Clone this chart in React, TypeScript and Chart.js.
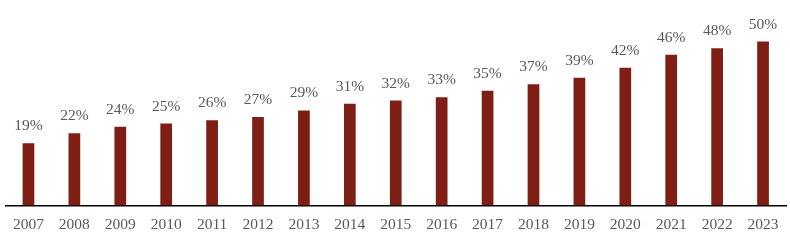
import React, { useEffect, useRef } from "react";
import { Chart, registerables } from "chart.js";

Chart.register(...registerables);

const years = ["2007","2008","2009","2010","2011","2012","2013","2014","2015","2016","2017","2018","2019","2020","2021","2022","2023"];
const shares = [19, 22, 24, 25, 26, 27, 29, 31, 32, 33, 35, 37, 39, 42, 46, 48, 50];

const labelPlugin = {
  id: "barLabels",
  afterDatasetsDraw(chart: any) {
    const ctx = chart.ctx;
    const meta = chart.getDatasetMeta(0);
    ctx.save();
    ctx.font = "15.5px 'Liberation Serif', serif";
    ctx.fillStyle = "#595959";
    ctx.textAlign = "center";
    ctx.textBaseline = "alphabetic";
    meta.data.forEach((bar: any, i: number) => {
      ctx.fillText(shares[i] + "%", bar.x, bar.y - 13);
    });
    ctx.restore();
  },
};

export default function App() {
  const ref = useRef<HTMLCanvasElement>(null);
  useEffect(() => {
    document.body.style.margin = "0";
    const chart = new Chart(ref.current!, {
      type: "bar",
      data: {
        labels: years,
        datasets: [
          {
            data: shares,
            backgroundColor: "#7E1E14",
            borderWidth: 0,
            barPercentage: 0.255,
            categoryPercentage: 1,
          },
        ],
      },
      options: {
        animation: false,
        responsive: false,
        maintainAspectRatio: false,
        layout: { padding: { left: 5.5, right: 4, top: 0, bottom: -3 } },
        plugins: { legend: { display: false }, tooltip: { enabled: false } },
        scales: {
          x: {
            grid: { display: false, drawTicks: false },
            border: { display: true, color: "#000000", width: 1.5 },
            ticks: {
              padding: 10,
              color: "#595959",
              font: { family: "'Liberation Serif', serif", size: 15.5 },
              maxRotation: 0,
              autoSkip: false,
            },
          },
          y: {
            display: false,
            min: 0,
            max: 62.7,
          },
        },
      },
      plugins: [labelPlugin],
    });
    return () => chart.destroy();
  }, []);
  return <canvas ref={ref} width={790} height={241} style={{ display: "block" }} />;
}
